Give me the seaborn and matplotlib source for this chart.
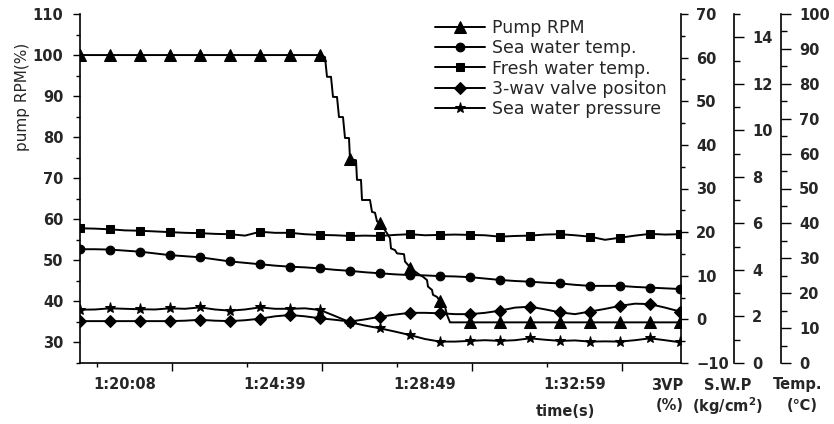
import matplotlib
matplotlib.use("Agg")
import matplotlib.pyplot as plt
from matplotlib.ticker import MultipleLocator
import seaborn as sns
import numpy as np
import pandas as pd

sns.set_style("ticks")
plt.rcParams['font.family'] = ['DejaVu Sans']
plt.rcParams['font.weight'] = 'bold'

# time axis (s from start of record), sampled every 15 s
t = np.arange(0, 601, 15)

# Fresh water temp. (deg C, right "Temp." axis)
fresh_temp = [38.6, 38.5, 38.3, 38.0, 37.9, 37.7, 37.5, 37.3, 37.2, 37.0, 36.9, 36.5,
              37.6, 37.3, 37.3, 36.9, 36.7, 36.6, 36.4, 36.5, 36.4, 36.7, 36.9, 36.6,
              36.7, 36.8, 36.7, 36.6, 36.2, 36.4, 36.5, 36.8, 36.9, 36.6, 36.2, 35.3,
              35.9, 36.5, 37.0, 36.8, 36.9]

# Sea water temp. (deg C, right "Temp." axis)
sea_temp = [32.6, 32.6, 32.5, 32.2, 31.9, 31.4, 30.9, 30.6, 30.3, 29.7, 29.1, 28.7,
            28.3, 27.9, 27.6, 27.4, 27.1, 26.7, 26.4, 26.0, 25.7, 25.4, 25.2, 25.1,
            24.9, 24.8, 24.6, 24.2, 23.8, 23.5, 23.3, 23.0, 22.8, 22.4, 22.1, 22.1,
            22.1, 21.8, 21.6, 21.4, 21.2]

# 3-way valve position (%, "3VP" axis)
valve_pos = [-0.4, -0.4, -0.4, -0.4, -0.4, -0.4, -0.4, -0.3, -0.1, -0.3, -0.4, -0.2,
             0.15, 0.7, 1.0, 0.7, 0.25, -0.1, -0.5, 0.0, 0.6, 1.1, 1.5, 1.5,
             1.4, 1.2, 1.2, 1.5, 2.0, 2.7, 2.9, 2.3, 1.6, 1.2, 1.8, 2.4,
             3.1, 3.6, 3.5, 2.7, 1.8]

# Sea water pressure (kg/cm2, "S.W.P" axis)
sw_pressure = [2.29, 2.30, 2.35, 2.33, 2.31, 2.30, 2.35, 2.33, 2.39, 2.30, 2.25, 2.30,
               2.39, 2.33, 2.33, 2.35, 2.28, 2.02, 1.75, 1.61, 1.49, 1.35, 1.20, 1.03,
               0.92, 0.92, 0.95, 0.98, 0.95, 0.98, 1.06, 1.00, 0.95, 0.97, 0.92, 0.93,
               0.92, 0.98, 1.06, 0.98, 0.89]

# Pump RPM (%), stepwise reduction
pump_t = [0, 30, 60, 90, 120, 150, 180, 210, 240, 245, 247, 251, 253, 257, 259, 263,
          265, 269, 270, 276, 277, 281, 282, 290, 292, 295, 297, 300, 307, 310, 311,
          315, 317, 324, 325, 328, 330, 340, 343, 347, 348, 352, 353, 357, 360, 365,
          367, 370, 390, 420, 450, 480, 510, 540, 570, 600]
pump_rpm = [100, 100, 100, 100, 100, 100, 100, 100, 100, 99.5, 94.7, 94.7, 89.8, 89.8,
            84.9, 84.9, 79.8, 79.8, 74.6, 74.4, 69.6, 69.6, 64.7, 64.7, 61.8, 61.6,
            59.5, 59.1, 56.6, 55.4, 52.9, 52.5, 51.7, 51.5, 49.7, 48.9, 48.2, 46.4,
            46.0, 45.2, 43.6, 42.8, 41.6, 41.1, 40.1, 38.7, 36.7, 34.9, 34.9, 34.9,
            34.9, 34.9, 34.9, 34.9, 34.9, 34.9]

time_labels = ["1:20:08", "1:24:39", "1:28:49", "1:32:59"]
time_label_pos = [45, 195, 345, 495]
legend_labels = ["Pump RPM", "Sea water temp.", "Fresh water temp.",
                 "3-wav valve positon", "Sea water pressure"]

df = pd.DataFrame({"t": t, "fresh": fresh_temp, "sea": sea_temp,
                   "valve": valve_pos, "swp": sw_pressure})
pump = pd.DataFrame({"t": pump_t, "rpm": pump_rpm})
pump_marks = [i for i, v in enumerate(pump_t) if v % 30 == 0]

fig = plt.figure(figsize=(8.34, 4.24), dpi=100)
ax = fig.add_axes([80 / 834, 61 / 424, 601 / 834, 349 / 424])
ax2 = ax.twinx()
ax3 = ax.twinx()
ax4 = ax.twinx()
ax3.spines['right'].set_position(('axes', 1.0882))
ax4.spines['right'].set_position(('axes', 1.1664))

lw = 1.4
common = dict(color='black', linewidth=lw, markeredgecolor='black', legend=False)
sns.lineplot(data=pump, x="t", y="rpm", ax=ax, marker='^', markersize=8.5,
             markevery=pump_marks, **common)
sns.lineplot(data=df, x="t", y="sea", ax=ax4, marker='o', markersize=6.3, markevery=2, **common)
sns.lineplot(data=df, x="t", y="fresh", ax=ax4, marker='s', markersize=5.8, markevery=2, **common)
sns.lineplot(data=df, x="t", y="valve", ax=ax2, marker='D', markersize=6, markevery=2, **common)
sns.lineplot(data=df, x="t", y="swp", ax=ax3, marker='*', markersize=8, markevery=2, **common)

handles = [ax.lines[0], ax4.lines[0], ax4.lines[1], ax2.lines[0], ax3.lines[0]]

# limits
ax.set_xlim(0, 601)
ax.set_ylim(25, 110)
ax2.set_ylim(-10, 70)
ax3.set_ylim(0, 15)
ax4.set_ylim(0, 100)

# spines
for a in (ax, ax2, ax3, ax4):
    for s in a.spines.values():
        s.set_color('black')
        s.set_linewidth(1.2)
ax.spines['top'].set_visible(False)
ax.spines['right'].set_visible(False)
for a in (ax2, ax3, ax4):
    for side in ('top', 'left', 'bottom'):
        a.spines[side].set_visible(False)

# ticks
ax.set_yticks(range(30, 111, 10))
ax.yaxis.set_minor_locator(MultipleLocator(5))
ax2.set_yticks(range(-10, 71, 10))
ax2.yaxis.set_minor_locator(MultipleLocator(5))
ax3.set_yticks(range(0, 15, 2))
ax3.yaxis.set_minor_locator(MultipleLocator(1))
ax4.set_yticks(range(0, 101, 10))
ax4.yaxis.set_minor_locator(MultipleLocator(5))
ax.set_xticks([92, 242, 392, 542])
ax.set_xticklabels([])
ax.set_xticks([17, 167, 317, 467], minor=True)

ax.tick_params(axis='x', which='major', length=6, width=1, color='black')
ax.tick_params(axis='x', which='minor', length=3, width=1, color='black')
ax.tick_params(axis='y', which='major', length=5, width=1, pad=7, labelsize=10.5, color='black')
ax.tick_params(axis='y', which='minor', length=3, width=1, color='black')
ax2.tick_params(axis='y', which='major', length=5, width=1, pad=6, labelsize=10.5, color='black')
ax2.tick_params(axis='y', which='minor', length=3, width=1, color='black')
for a in (ax3, ax4):
    a.tick_params(axis='y', which='major', length=7, width=1, pad=6, labelsize=10.5, color='black')
    a.tick_params(axis='y', which='minor', length=4, width=1, color='black')
ax2.set_ylabel("")
ax3.set_ylabel("")
ax4.set_ylabel("")
ax.set_xlabel("")

# time tick labels (offset from tick marks as in the original)
for x, lab in zip(time_label_pos, time_labels):
    ax.text(x, -0.063, lab, transform=ax.get_xaxis_transform(), ha='center',
            va='center', fontsize=10.5, fontweight='bold')
ax.text(0.807, -0.14, "time(s)", transform=ax.transAxes, ha='center', va='center',
        fontsize=10.5, fontweight='bold')

ax.set_ylabel("pump RPM(%)", fontsize=11, fontweight='normal')
ax.yaxis.set_label_coords(-0.083, 0.762)

# units under the right axes
fw = 834.0
fh = 424.0
unit_font = dict(fontsize=10.5, fontweight='bold', ha='center', va='center',
                 family=['DejaVu Sans'])
fig.text(667 / fw, 1 - 385 / fh, "3VP", **unit_font)
fig.text(670 / fw, 1 - 405 / fh, "(%)", **unit_font)
fig.text(728 / fw, 1 - 385 / fh, "S.W.P", **unit_font)
fig.text(728 / fw, 1 - 406 / fh, "(kg/cm$^2$)", **unit_font)
fig.text(798 / fw, 1 - 385 / fh, "Temp.", **unit_font)
fig.text(802 / fw, 1 - 406 / fh, "(\u2103)", **unit_font)

leg = ax4.legend(handles, legend_labels, loc='upper left',
                 bbox_to_anchor=(435 / fw, 1 - 19 / fh), bbox_transform=fig.transFigure,
                 frameon=False, borderpad=0, borderaxespad=0, handlelength=2.9,
                 handletextpad=0.4, labelspacing=0.13,
                 prop={'size': 12.5, 'weight': 'normal'})

fig.savefig("out.png", dpi=100)
